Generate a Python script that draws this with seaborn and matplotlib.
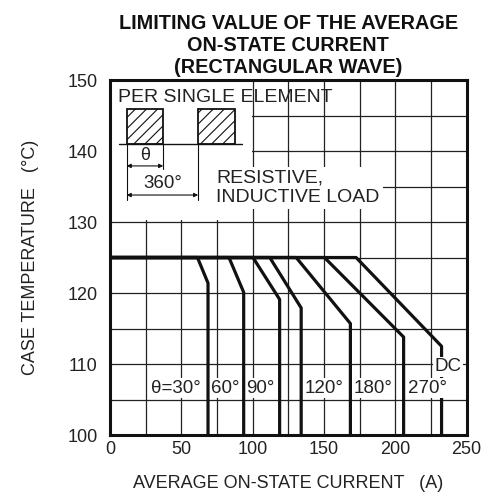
"""
Limiting value of the average on-state current (rectangular wave).
"""

import numpy as np
import pandas as pd
import matplotlib
matplotlib.use("Agg")
import matplotlib.pyplot as plt
from matplotlib.patches import Rectangle
import seaborn as sns

# conduction angles and the curve break points
angles = ["30°", "60°", "90°", "120°", "180°", "270°", "DC"]
knee_current = [61.3, 83.4, 100.2, 112.0, 130.5, 150.3, 172.5]
drop_current = [68.7, 93.7, 118.9, 134.0, 168.5, 205.8, 232.4]
drop_temp = [121.4, 120.1, 119.1, 117.9, 115.7, 113.8, 112.5]
max_temp = 125.0
min_temp = 100.0

label_text = ["θ=30°", "60°", "90°", "120°", "180°", "270°", "DC"]
label_current = [46.0, 81.0, 105.5, 150.0, 184.5, 222.5, 237.0]
label_temp = [106.6, 106.6, 106.6, 106.6, 106.6, 106.6, 109.6]

x_ticks = [0, 50, 100, 150, 200, 250]
y_ticks = [100, 110, 120, 130, 140, 150]

TEXT = "#222222"


def build_curves() -> pd.DataFrame:
    rows = []
    for name, k, dc, dt in zip(angles, knee_current, drop_current, drop_temp):
        pts = [(0.0, max_temp), (k, max_temp), (dc, dt), (dc, min_temp)]
        for i, (x, y) in enumerate(pts):
            rows.append({"curve": name, "order": i, "current": x, "temp": y})
    return pd.DataFrame(rows)


def draw_waveform(ax) -> None:
    """Small rectangular-wave sketch in the upper-left corner."""
    # blank out the grid behind the sketch
    ax.add_patch(Rectangle((0, 130.25), 99.5, 19.75, facecolor="white",
                           edgecolor="none", zorder=1))
    for x0 in (11.7, 61.8):
        ax.add_patch(Rectangle((x0, 141.0), 25.6, 4.9, facecolor="white",
                               edgecolor="#111111", hatch="///", lw=1.3,
                               zorder=4))
    ax.plot([6.3, 92.6], [141.0, 141.0], color="#111111", lw=1.0, zorder=4)
    ax.plot([11.7, 11.7], [141.0, 133.1], color="#111111", lw=0.8, zorder=4)
    ax.plot([37.3, 37.3], [141.0, 137.4], color="#111111", lw=0.8, zorder=4)
    ax.plot([61.8, 61.8], [141.0, 133.1], color="#111111", lw=0.8, zorder=4)
    arrow = dict(arrowstyle="<|-|>", lw=0.8, color="#111111",
                 mutation_scale=6, shrinkA=0, shrinkB=0)
    ax.annotate("", xy=(11.7, 137.9), xytext=(37.3, 137.9),
                arrowprops=arrow, zorder=4)
    ax.annotate("", xy=(11.7, 133.8), xytext=(61.8, 133.8),
                arrowprops=arrow, zorder=4)
    ax.text(24.5, 139.4, "θ", ha="center", va="center", fontsize=13,
            color=TEXT, zorder=5)
    ax.text(37.3, 135.4, "360°", ha="center", va="center", fontsize=13.5,
            color=TEXT, zorder=5)
    ax.text(5.8, 147.6, "PER SINGLE ELEMENT", ha="left", va="center",
            fontsize=14, color=TEXT, zorder=5)


def main() -> None:
    sns.set_theme(style="white")
    plt.rcParams["font.family"] = ["Liberation Sans", "DejaVu Sans"]
    plt.rcParams["hatch.linewidth"] = 0.8

    df = build_curves()

    fig, ax = plt.subplots(figsize=(4.88, 5.01), dpi=100)
    fig.subplots_adjust(left=0.2254, right=0.9563, bottom=0.1317, top=0.8403)

    ax.set_xlim(0, 250)
    ax.set_ylim(100, 150)
    ax.set_xticks(x_ticks)
    ax.set_xticks(np.arange(0, 251, 25), minor=True)
    ax.set_yticks(y_ticks)
    ax.set_yticks(np.arange(100, 151, 5), minor=True)
    ax.set_axisbelow(True)
    ax.grid(which="both", color="#222222", lw=0.9)
    ax.tick_params(which="both", length=0, labelsize=13, colors=TEXT)
    ax.tick_params(axis="y", pad=9)
    ax.tick_params(axis="x", pad=4)
    for sp in ax.spines.values():
        sp.set_color("#111111")
        sp.set_linewidth(2.2)
        sp.set_zorder(8)

    # all but DC sit above the angle labels; DC is partly hidden by them
    main_df = df[df["curve"] != "DC"]
    dc_df = df[df["curve"] == "DC"]
    sns.lineplot(data=main_df, x="current", y="temp", hue="curve",
                 units="curve", estimator=None, sort=False, ax=ax,
                 palette=["#111111"] * (len(angles) - 1), lw=2.3,
                 legend=False, zorder=6)
    sns.lineplot(data=dc_df, x="current", y="temp", sort=False,
                 estimator=None, ax=ax, color="#111111", lw=2.3,
                 legend=False, zorder=3)

    for txt, x, y in zip(label_text, label_current, label_temp):
        ax.text(x, y, txt, ha="center", va="center", fontsize=13.5,
                color=TEXT, zorder=5,
                bbox=dict(facecolor="white", edgecolor="none", pad=1.0))

    ax.text(74.6, 134.85, "RESISTIVE,\nINDUCTIVE LOAD", ha="left",
            va="center", fontsize=14, color=TEXT, linespacing=1.2, zorder=5,
            bbox=dict(facecolor="white", edgecolor="none", pad=2.0))

    draw_waveform(ax)

    ax.set_title("LIMITING VALUE OF THE AVERAGE\nON-STATE CURRENT\n"
                 "(RECTANGULAR WAVE)", fontsize=14.3, fontweight="bold",
                 color="#111111", linespacing=1.2, pad=5)
    ax.set_xlabel("AVERAGE ON-STATE CURRENT   (A)", fontsize=13, color=TEXT)
    ax.set_ylabel("CASE TEMPERATURE   (°C)", fontsize=13, color=TEXT)
    ax.xaxis.set_label_coords(0.5, -0.112)
    ax.yaxis.set_label_coords(-0.199, 0.5)

    fig.savefig("out.png", dpi=100)
    plt.close(fig)


if __name__ == "__main__":
    main()
